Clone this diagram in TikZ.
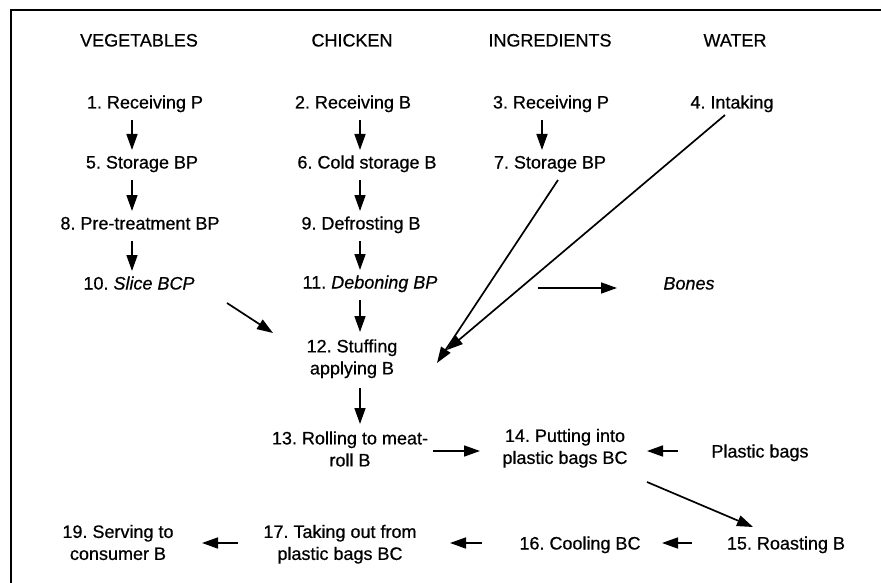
\documentclass[tikz,border=0pt]{standalone}
\usepackage{fontspec}
\setmainfont{Liberation Sans}[FakeBold=0.6]
\usetikzlibrary{arrows.meta,calc}
\frenchspacing

\tikzset{
  lbl/.style={inner sep=0pt, outer sep=0pt, font=\fontsize{18}{22}\selectfont,
              text height=13.5pt, text depth=4.5pt},
  lbl2/.style={inner sep=0pt, outer sep=0pt, font=\fontsize{18}{22}\selectfont,
               align=center},
  arr/.style={line width=1.7pt, -{Triangle[length=16pt,width=11pt]}},
  varr/.style={arr, shorten <=7pt, shorten >=5pt},
  frame/.style={line width=1.5pt}
}

\begin{document}
\begin{tikzpicture}[x=1pt, y=-1pt]
\useasboundingbox (0,0) rectangle (881,583);

% frame along the top and left edge
\draw[frame] (881,10) -- (11,10) -- (11,583);

% column headings
\node[lbl] (hveg) at (139,42) {VEGETABLES};
\node[lbl] (hchk) at (352,42) {CHICKEN};
\node[lbl] (hing) at (550,42) {INGREDIENTS};
\node[lbl] (hwat) at (735,42) {WATER};

% process steps
\node[lbl] (n1) at (145,104) {1. Receiving P};
\node[lbl] (n2) at (353,104) {2. Receiving B};
\node[lbl] (n3) at (551,104) {3. Receiving P};
\node[lbl] (n4) at (732,104) {4. Intaking};
\node[lbl] (n5) at (142,164) {5. Storage BP};
\node[lbl] (n6) at (367,164) {6. Cold storage B};
\node[lbl] (n7) at (550,164) {7. Storage BP};
\node[lbl] (n8) at (140,225) {8. Pre-treatment BP};
\node[lbl] (n9) at (361,225) {9. Defrosting B};
\node[lbl] (n10) at (139,285) {10. \textit{Slice BCP}};
\node[lbl] (n11) at (370,284) {11. \textit{Deboning BP}};
\node[lbl] (bones) at (689,285) {\textit{Bones}};
\node[lbl2] (n12) at (352,359) {\strut 12. Stuffing\\ \strut applying B};
\node[lbl2] (n13) at (350,451) {\strut 13. Rolling to meat-\\ \strut roll B};
\node[lbl2] (n14) at (565,448.5) {\strut 14. Putting into\\ \strut plastic bags BC};
\node[lbl] (bags) at (760,453) {Plastic bags};
\node[lbl] (n15) at (786,545) {15. Roasting B};
\node[lbl] (n16) at (580,545) {16. Cooling BC};
\node[lbl2] (n17) at (340,544.5) {\strut 17. Taking out from\\ \strut plastic bags BC};
\node[lbl2] (n19) at (118,544.5) {\strut 19. Serving to\\ \strut consumer B};

% x positions of the vertical arrows in each column
\coordinate (cveg) at (132,0);
\coordinate (cchk) at (360,0);
\coordinate (cing) at (542,0);

% vegetables
\draw[varr] (n1.south -| cveg) -- (n5.north -| cveg);
\draw[varr] (n5.south -| cveg) -- (n8.north -| cveg);
\draw[varr] (n8.south -| cveg) -- (n10.north -| cveg);
% chicken
\draw[varr] (n2.south -| cchk) -- (n6.north -| cchk);
\draw[varr] (n6.south -| cchk) -- (n9.north -| cchk);
\draw[varr] (n9.south -| cchk) -- (n11.north -| cchk);
\draw[varr] (n11.south -| cchk) -- (n12.north -| cchk);
\draw[varr] (n12.south -| cchk) -- (n13.north -| cchk);
% ingredients
\draw[varr] (n3.south -| cing) -- (n7.north -| cing);

% inputs joining the stuffing step
\draw[arr] ($(n10)+(88,18)$) -- ($(n12)+(-79,-26)$);
\draw[arr] ($(n7)+(8,16)$) -- ($(n12)+(85,4)$);
\draw[arr] ($(n4)+(-7,11)$) -- ($(n12)+(95,-9)$);
\draw[arr] ($(n11)+(168,4)$) -- ($(bones)+(-72,3)$);

% packing, roasting and serving
\draw[arr] ($(n13)+(83,0)$) -- ($(n14)+(-85,2.5)$);
\draw[arr] ($(bags)+(-82,-2)$) -- ($(n14)+(82,2.5)$);
\draw[arr] ($(n14)+(82,33.5)$) -- ($(n15)+(-33,-18)$);
\draw[arr] ($(n15)+(-94,-2)$) -- ($(n16)+(82,-2)$);
\draw[arr] ($(n16)+(-98,-2)$) -- ($(n17)+(110,-1.5)$);
\draw[arr] ($(n17)+(-102,-1.5)$) -- ($(n19)+(84,-1.5)$);
\end{tikzpicture}
\end{document}
